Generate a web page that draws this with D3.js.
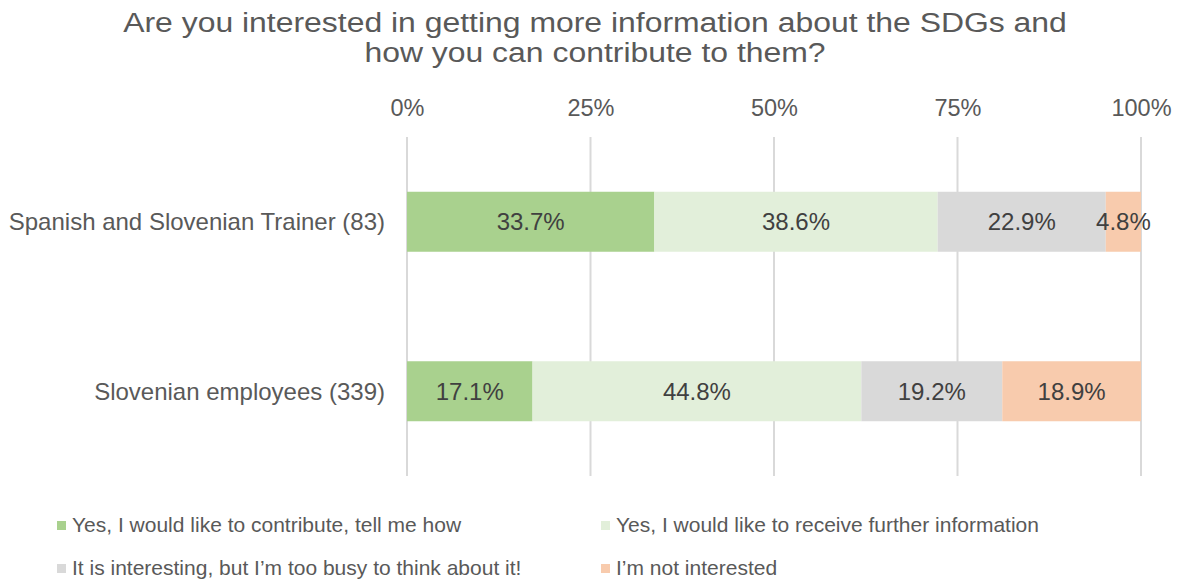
<!DOCTYPE html>
<html>
<head>
<meta charset="utf-8">
<title>SDGs interest</title>
<script src="https://cdn.jsdelivr.net/npm/d3@7"></script>
<style type="text/css">
	body { margin: 0; background: #fff; }
	text { font-family: "Liberation Sans", Arial, sans-serif; }
	.grid line { stroke: #d9d9d9; stroke-width: 2px; }
</style>
</head>
<body>
<script type="text/javascript">

var width = 1179,
    height = 585;

// data
var groups = ["Spanish and Slovenian Trainer (83)", "Slovenian employees (339)"];
var answers = ["Yes, I would like to contribute, tell me how",
               "Yes, I would like to receive further information",
               "It is interesting, but I\u2019m too busy to think about it!",
               "I\u2019m not interested"];
var contribute = [33.7, 17.1];
var receive = [38.6, 44.8];
var busy = [22.9, 19.2];
var notInterested = [4.8, 18.9];
var tickValues = [0, 25, 50, 75, 100];
var colors = ["#a9d18e", "#e2efda", "#d9d9d9", "#f8cbad"];

var rows = groups.map(function(g, i) {
	return { group: g, vals: [contribute[i], receive[i], busy[i], notInterested[i]] };
});

var svg = d3.select("body").append("svg").attr("width", width).attr("height", height);

var x = d3.scaleLinear().domain([0, 100]).range([407, 1141]);
var y = d3.scaleBand().domain(groups).range([137, 476]).paddingInner(0.646).paddingOuter(0.323);

// title (source font is a bit wider than Liberation, so stretch it)
var title = svg.append("g")
	.attr("transform", "translate(595,0) scale(1.14,1)")
	.append("text")
	.attr("text-anchor", "middle")
	.attr("fill", "#595959").style("font-size", "28px");
title.append("tspan").attr("x", 0).attr("y", 32).text("Are you interested in getting more information about the SDGs and");
title.append("tspan").attr("x", 0).attr("y", 62).text("how you can contribute to them?");

// gridlines
svg.append("g").attr("class", "grid")
	.selectAll("line").data(tickValues).enter()
	.append("line")
	.attr("x1", function(d) { return x(d); })
	.attr("x2", function(d) { return x(d); })
	.attr("y1", 137).attr("y2", 476);

// top axis labels
svg.append("g")
	.attr("transform", "translate(0,116)")
	.call(d3.axisTop(x).tickValues(tickValues).tickFormat(function(d) { return d + "%"; }).tickSize(0).tickPadding(0))
	.call(function(g) { g.select(".domain").remove(); })
	.selectAll("text")
	.attr("fill", "#595959")
	.style("font-size", "23.5px")
	.style("font-family", "'Liberation Sans', Arial, sans-serif");

// stacked bars
var segs = [];
rows.forEach(function(r) {
	var acc = 0;
	r.vals.forEach(function(v, k) {
		segs.push({ group: r.group, k: k, x0: acc, x1: acc + v, v: v });
		acc += v;
	});
});

svg.append("g").selectAll("rect").data(segs).enter()
	.append("rect")
	.attr("x", function(d) { return x(d.x0); })
	.attr("width", function(d) { return x(d.x1) - x(d.x0); })
	.attr("y", function(d) { return y(d.group); })
	.attr("height", y.bandwidth())
	.attr("fill", function(d) { return colors[d.k]; });

svg.append("g").selectAll("text").data(segs).enter()
	.append("text")
	.attr("x", function(d) { return (x(d.x0) + x(d.x1)) / 2; })
	.attr("y", function(d) { return y(d.group) + y.bandwidth() / 2; })
	.attr("dy", "0.35em")
	.attr("text-anchor", "middle")
	.attr("fill", "#404040")
	.style("font-size", "24px")
	.text(function(d) { return d.v.toFixed(1) + "%"; });

// category labels
svg.append("g").selectAll("text").data(groups).enter()
	.append("text")
	.attr("x", 385)
	.attr("y", function(d) { return y(d) + y.bandwidth() / 2; })
	.attr("dy", "0.35em")
	.attr("text-anchor", "end")
	.attr("fill", "#595959")
	.style("font-size", "24px")
	.text(function(d) { return d; });

// legend
var legendPos = [[57, 525], [601, 525], [57, 568], [601, 568]];
var leg = svg.append("g").selectAll("g").data(answers).enter()
	.append("g")
	.attr("transform", function(d, i) { return "translate(" + legendPos[i][0] + "," + legendPos[i][1] + ")"; });
leg.append("rect").attr("x", 0).attr("y", -4).attr("width", 9).attr("height", 9)
	.attr("fill", function(d, i) { return colors[i]; });
leg.append("text").attr("x", 15).attr("dy", "0.35em")
	.attr("fill", "#595959").style("font-size", "21px")
	.text(function(d) { return d; });

</script>
</body>
</html>
